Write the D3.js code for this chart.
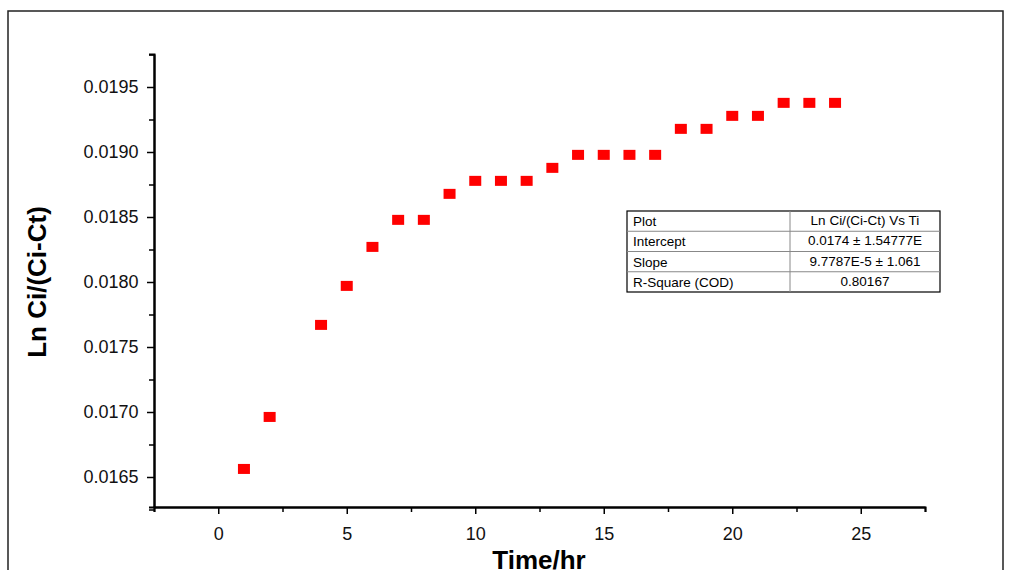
<!DOCTYPE html>
<html><head><meta charset="utf-8">
<script src="https://cdn.jsdelivr.net/npm/d3@7"></script>
<style>
body{margin:0;background:#fff;font-family:"Liberation Sans",Arial,sans-serif}
</style></head><body>
<svg id="chart" width="1010" height="570"></svg>
<script>
const hours = [1,2,4,5,6,7,8,9,10,11,12,13,14,15,16,17,18,19,20,21,22,23,24];
const lnRatio = [0.016562,0.016962,0.017670,0.017970,0.018270,0.018478,0.018478,0.018678,
  0.018778,0.018778,0.018778,0.018878,0.018978,0.018978,0.018978,0.018978,
  0.019178,0.019178,0.019278,0.019278,0.019378,0.019378,0.019378];
const xTicks = [0,5,10,15,20,25];
const yTicks = [0.0165,0.017,0.0175,0.018,0.0185,0.019,0.0195];
const tableRows = [["Plot","Ln Ci/(Ci-Ct) Vs Ti"],["Intercept","0.0174 ± 1.54777E"],
  ["Slope","9.7787E-5 ± 1.061"],["R-Square (COD)","0.80167"]];

const svg = d3.select("#chart");
const x = d3.scaleLinear().domain([-2.5,27.5]).range([154,925]);
const y = d3.scaleLinear().domain([0.0195 - 420/130000, 0.0195 + 33/130000]).range([507,54]);

// frame
svg.append("path").attr("d","M8,570 V11 H1003 V570").attr("fill","none").attr("stroke","#222").attr("stroke-width",1.5);

const xa = svg.append("g").attr("transform","translate(0,507)")
  .call(d3.axisBottom(x).tickValues(xTicks).tickSize(7).tickSizeOuter(0).tickFormat(d3.format("d")));
svg.append("g").attr("transform","translate(0,507)")
  .call(d3.axisBottom(x).tickValues([-2.5,2.5,7.5,12.5,17.5,22.5,27.5]).tickSize(5).tickFormat(""));
const ya = svg.append("g").attr("transform","translate(154,0)")
  .call(d3.axisLeft(y).tickValues(yTicks).tickSize(7).tickSizeOuter(0).tickFormat(d3.format(".4f")));
svg.append("g").attr("transform","translate(154,0)")
  .call(d3.axisLeft(y).tickValues([0.01625,0.01675,0.01725,0.01775,0.01825,0.01875,0.01925,0.01975]).tickSize(5).tickFormat(""));
svg.selectAll(".domain").attr("stroke","#000").attr("stroke-width",2);
svg.selectAll(".tick line").attr("stroke","#000").attr("stroke-width",1.5);
svg.selectAll(".tick text").attr("font-size",18).attr("font-family","Liberation Sans, Arial").attr("fill","#111");
xa.selectAll(".tick text").attr("dy","1.3em");
ya.selectAll(".tick text").attr("dx","-0.3em");

svg.append("g").selectAll("rect").data(hours).join("rect")
  .attr("x",(d)=>x(d)-6).attr("y",(d,i)=>y(lnRatio[i])-5)
  .attr("width",12).attr("height",10).attr("fill","#f00");

svg.append("text").text("Time/hr").attr("x",539).attr("y",569).attr("text-anchor","middle")
  .attr("font-size",26).attr("font-weight","bold").attr("font-family","Liberation Sans Narrow, Arial Narrow, sans-serif");
svg.append("text").text("Ln Ci/(Ci-Ct)").attr("transform","translate(46,282) rotate(-90)").attr("text-anchor","middle")
  .attr("font-size",26).attr("font-weight","bold").attr("font-family","Liberation Sans Narrow, Arial Narrow, sans-serif");

// stats table
const tb = svg.append("g");
const tx0 = 627, tx1 = 790, tx2 = 940, ty0 = 211, rh = 20.25;
tb.append("rect").attr("x",tx0).attr("y",ty0).attr("width",tx2-tx0).attr("height",rh*4).attr("fill","#fff").attr("stroke","#000").attr("stroke-width",1.2);
tb.append("line").attr("x1",tx1).attr("x2",tx1).attr("y1",ty0).attr("y2",ty0+rh*4).attr("stroke","#888");
[1,2,3].forEach(i=>tb.append("line").attr("x1",tx0).attr("x2",tx2).attr("y1",ty0+rh*i).attr("y2",ty0+rh*i).attr("stroke","#888"));
tableRows.forEach((r,i)=>{
  tb.append("text").text(r[0]).attr("x",tx0+6).attr("y",ty0+rh*i+15).attr("font-size",13.5);
  tb.append("text").text(r[1]).attr("x",(tx1+tx2)/2).attr("y",ty0+rh*i+14).attr("font-size",13.5).attr("text-anchor","middle");
});
</script>
</body></html>
